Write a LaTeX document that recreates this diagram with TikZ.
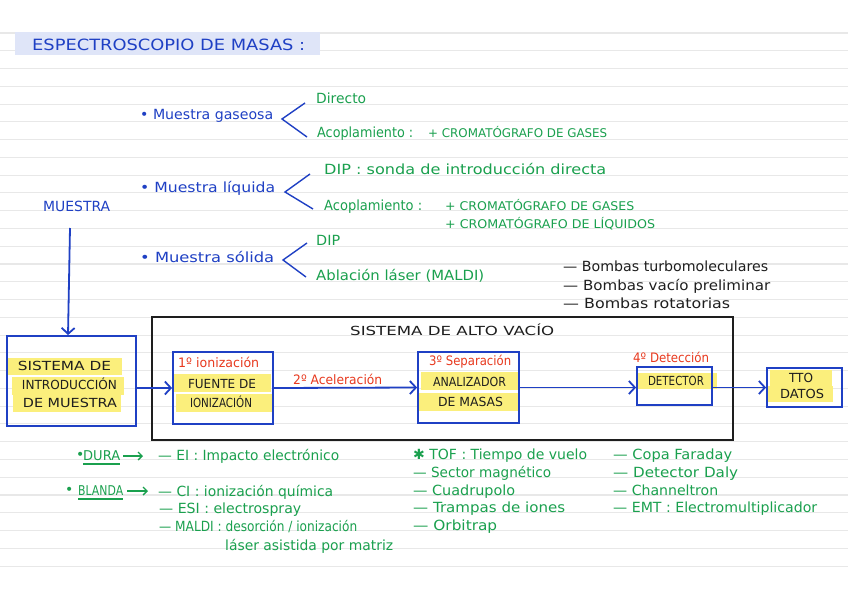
\documentclass[tikz,border=0pt]{standalone}
\usepackage{fontspec}
\setmainfont{DejaVu Sans}
\usepackage{graphicx}
\usetikzlibrary{arrows.meta}
\definecolor{hblue}{HTML}{1F40C4}
\definecolor{hgreen}{HTML}{1AA04E}
\definecolor{hred}{HTML}{E8391E}
\definecolor{hyel}{HTML}{FBEF7C}
\definecolor{hrule}{HTML}{E8E8E8}
\definecolor{hlav}{HTML}{DFE5F8}
\definecolor{hdark}{HTML}{1E1E1E}
\newcommand\tw[2]{\resizebox{#1pt}{\height}{#2}}
\begin{document}
\begin{tikzpicture}[x=1pt,y=-1pt,
  tl/.style={inner sep=0pt, anchor=base west, yshift=-4.5pt, font=\fontsize{14}{16}\selectfont},
  tc/.style={inner sep=0pt, anchor=base, yshift=-4.5pt, font=\fontsize{12.5}{14}\selectfont},
  capsf/.style={font=\fontsize{12.5}{14}\selectfont},
  smallf/.style={font=\fontsize{12}{14}\selectfont},
  bluet/.style={text=hblue}, greent/.style={text=hgreen}, redt/.style={text=hred}, darkt/.style={text=hdark},
  bx/.style={draw=hblue, line width=1.8pt, inner sep=0pt},
  arr/.style={draw=hblue, line width=1.8pt, -{Straight Barb[length=6pt,width=13pt]}},
  garr/.style={draw=hgreen, line width=1.4pt, -{Straight Barb[length=4pt,width=8pt]}},
  chev/.style={draw=hblue, line width=1.4pt},
  uline/.style={draw=hgreen, line width=1.2pt}
]
\useasboundingbox (0,0) rectangle (848,599);
\fill[white] (0,0) rectangle (848,599);
\foreach \i in {0,...,30} \draw[hrule, line width=1.1pt] (0,{33+17.77*\i}) -- (848,{33+17.77*\i});

% title
\fill[hlav] (15,32) rectangle (320,55);
\node[inner sep=0pt, anchor=base west, yshift=-5.5pt, font=\fontsize{15.5}{17}\selectfont, bluet] (title) at (32,45) {\tw{273}{ESPECTROSCOPIO DE MASAS :}};

% muestra branches
\node[tl,bluet] (gas) at (140,115) {\tw{133}{• Muestra gaseosa}};
\node[tl,bluet] (liq) at (140,188) {\tw{135}{• Muestra líquida}};
\node[tl,bluet] (sol) at (140,258) {\tw{134}{• Muestra sólida}};

\node[tl,greent] (gdir) at (316,99) {\tw{50}{Directo}};
\node[tl,greent] (gacop) at (317,133) {\tw{96}{Acoplamiento :}};
\node[tl,greent,smallf] (gcg) at (428,133) {\tw{179}{+ CROMATÓGRAFO DE GASES}};

\node[tl,greent] (ldip) at (324,170) {\tw{282}{DIP : sonda de introducción directa}};
\node[tl,greent] (lacop) at (324,206) {\tw{98}{Acoplamiento :}};
\node[tl,greent,smallf] (lcg) at (445,206) {\tw{189}{+ CROMATÓGRAFO DE GASES}};
\node[tl,greent,smallf] (lcl) at (445,224) {\tw{210}{+ CROMATÓGRAFO DE LÍQUIDOS}};

\node[tl,greent] (sdip) at (316,241) {\tw{24}{DIP}};
\node[tl,greent] (sabl) at (316,276) {\tw{168}{Ablación láser (MALDI)}};

\coordinate (gv) at (282,119); \coordinate (gt) at (305,103); \coordinate (gb) at (307,137);
\coordinate (lv) at (285,192); \coordinate (lt) at (310,174); \coordinate (lb) at (313,209);
\coordinate (sv) at (283,260); \coordinate (st) at (307,243); \coordinate (sb) at (306,277);
\draw[chev] (gt) -- (gv) -- (gb);
\draw[chev] (lt) -- (lv) -- (lb);
\draw[chev] (st) -- (sv) -- (sb);

% bombas
\node[tl,darkt] (b1) at (563,267) {\tw{205}{— Bombas turbomoleculares}};
\node[tl,darkt] (b2) at (563,286) {\tw{207}{— Bombas vacío preliminar}};
\node[tl,darkt] (b3) at (563,304) {\tw{167}{— Bombas rotatorias}};

% MUESTRA
\node[tl,bluet,font=\fontsize{14}{16}\selectfont] (muestra) at (43,207) {\tw{67}{MUESTRA}};

% highlights
\fill[hyel] (8,358) rectangle (122,375);
\fill[hyel] (12,377) rectangle (124,395);
\fill[hyel] (13,395) rectangle (121,412);
\fill[hyel] (173,374) rectangle (271,392);
\fill[hyel] (176,394) rectangle (272,412);
\fill[hyel] (421,372) rectangle (518,390);
\fill[hyel] (419,393) rectangle (518,411);
\fill[hyel] (637,373) rectangle (717,389);
\fill[hyel] (770,370) rectangle (832,386);
\fill[hyel] (768,386) rectangle (833,402);

% boxes
\node[draw=hdark, line width=1.5pt, inner sep=0pt, minimum width=581pt, minimum height=123pt] (vacio) at (442.5,378.5) {};
\node[bx, minimum width=129pt, minimum height=90pt] (intro) at (71.5,381) {};
\node[bx, minimum width=100pt, minimum height=72pt] (fuente) at (223,388) {};
\node[bx, minimum width=101pt, minimum height=71pt] (anal) at (468.5,387.5) {};
\node[bx, minimum width=75pt, minimum height=38pt] (det) at (674.5,386) {};
\node[bx, minimum width=75pt, minimum height=39pt] (tto) at (804.5,387.5) {};

\node[tl,darkt,capsf] (vaciot) at (350,331) {\tw{204}{SISTEMA DE ALTO VACÍO}};

\node[tc,darkt] (i1) at (64.5,366) {\tw{93}{SISTEMA DE}};
\node[tc,darkt] (i2) at (69.5,385) {\tw{95}{INTRODUCCIÓN}};
\node[tc,darkt] (i3) at (70,403) {\tw{94}{DE MUESTRA}};

\node[tl,redt,font=\fontsize{13}{15}\selectfont] (r1) at (178,363) {\tw{81}{1º ionización}};
\node[tc,darkt,capsf] (f1) at (222,384) {\tw{68}{FUENTE DE}};
\node[tc,darkt,capsf] (f2) at (221,403) {\tw{62}{IONIZACIÓN}};

\node[tl,redt,font=\fontsize{13}{15}\selectfont] (r2) at (293,380) {\tw{89}{2º Aceleración}};

\node[tl,redt,font=\fontsize{13}{15}\selectfont] (r3) at (429,361) {\tw{82}{3º Separación}};
\node[tc,darkt,capsf] (a1) at (469.5,382) {\tw{73}{ANALIZADOR}};
\node[tc,darkt,capsf] (a2) at (470.5,402) {\tw{65}{DE MASAS}};

\node[tl,redt,font=\fontsize{13}{15}\selectfont] (r4) at (633,358) {\tw{76}{4º Detección}};
\node[tc,darkt,capsf] (d1) at (676,381) {\tw{56}{DETECTOR}};

\node[tc,darkt,capsf] (t1) at (801,378) {\tw{24}{TTO}};
\node[tc,darkt,capsf] (t2) at (802,394) {\tw{44}{DATOS}};

% arrows
\coordinate (mtop) at (70,228);
\draw[arr] (mtop) -- (intro.north -| 68,0);
\draw[arr] (intro.east |- fuente.west) -- (fuente.west);
\draw[arr] (fuente.east) -- (anal.west);
\draw[arr] (anal.east) -- (anal.east -| det.west);
\draw[arr] (det.east |- tto.west) -- (tto.west);

% bottom left
\node[tl,greent] (db) at (76,455) {•};
\node[tl,greent,font=\fontsize{13.5}{15}\selectfont] (dura) at (83,456) {\tw{37}{DURA}};
\draw[uline] ([yshift=-3.5pt]dura.base west) -- ([yshift=-3.5pt]dura.base east);
\coordinate (da1) at (123,456); \coordinate (da2) at (143,456);
\draw[garr] (da1) -- (da2);
\node[tl,greent] (ei) at (158,456) {\tw{181}{— EI : Impacto electrónico}};

\node[tl,greent] (bb) at (65,490) {•};
\node[tl,greent,font=\fontsize{13.5}{15}\selectfont] (blanda) at (78,491) {\tw{45}{BLANDA}};
\draw[uline] ([yshift=-3.5pt]blanda.base west) -- ([yshift=-3.5pt]blanda.base east);
\coordinate (ba1) at (127,491); \coordinate (ba2) at (148,491);
\draw[garr] (ba1) -- (ba2);
\node[tl,greent] (ci) at (158,492) {\tw{175}{— CI : ionización química}};
\node[tl,greent] (esi) at (159,509) {\tw{142}{— ESI : electrospray}};
\node[tl,greent] (maldi) at (159,527) {\tw{198}{— MALDI : desorción / ionización}};
\node[tl,greent] (maldi2) at (225,546) {\tw{168}{láser asistida por matriz}};

% analyzers
\node[tl,greent] (tof) at (413,455) {\tw{174}{✱ TOF : Tiempo de vuelo}};
\node[tl,greent] (sec) at (413,473) {\tw{138}{— Sector magnético}};
\node[tl,greent] (cua) at (413,491) {\tw{102}{— Cuadrupolo}};
\node[tl,greent] (tra) at (413,508) {\tw{152}{— Trampas de iones}};
\node[tl,greent] (orb) at (413,526) {\tw{84}{— Orbitrap}};

% detectors
\node[tl,greent] (cop) at (613,455) {\tw{119}{— Copa Faraday}};
\node[tl,greent] (dal) at (613,473) {\tw{125}{— Detector Daly}};
\node[tl,greent] (cha) at (613,491) {\tw{105}{— Channeltron}};
\node[tl,greent] (emt) at (613,508) {\tw{204}{— EMT : Electromultiplicador}};
\end{tikzpicture}
\end{document}
